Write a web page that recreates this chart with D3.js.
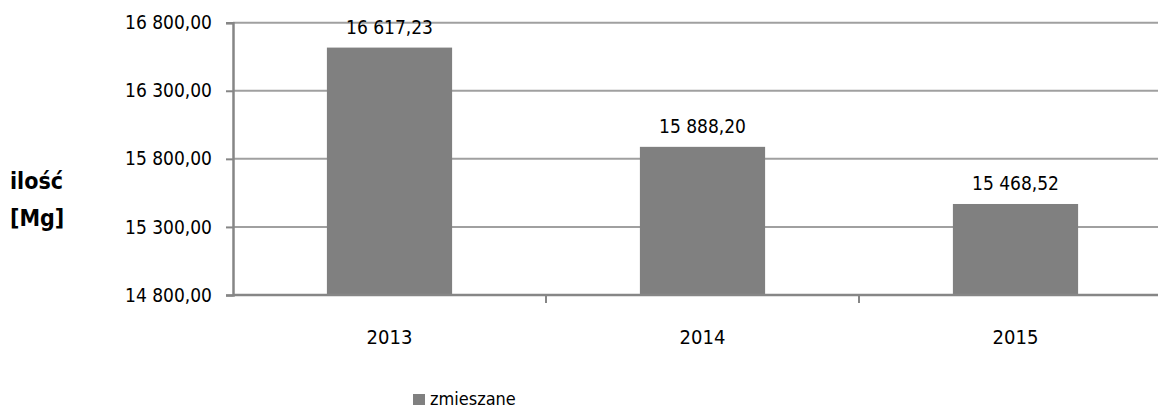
<!DOCTYPE html>
<html><head><meta charset="utf-8">
<script src="https://cdn.jsdelivr.net/npm/d3@7"></script>
<style>
body{margin:0;background:#fff;}
svg{display:block;}
text{font-family:"DejaVu Sans Condensed","DejaVu Sans",sans-serif;fill:#000;}
</style></head><body>
<svg id="c" width="1158" height="410"></svg>
<script>
const categories = ["2013","2014","2015"];
const values = [16617.23, 15888.20, 15468.52];
const yTicks = [14800, 15300, 15800, 16300, 16800];
const seriesName = "zmieszane";
const yTitle = ["ilość","[Mg]"];

const fmt = v => {
  const s = v.toFixed(2).split(".");
  return s[0].replace(/\B(?=(\d{3})+(?!\d))/g, "\u00a0") + "," + s[1];
};

const svg = d3.select("#c");
const pLeft = 233, pRight = 1172, pTop = 22.7, pBottom = 295;
const x = d3.scaleBand().domain(categories).range([pLeft, pRight]).padding(0);
const y = d3.scaleLinear().domain([14800, 16800]).range([pBottom, pTop]);

// gridlines
svg.append("g").selectAll("line").data(yTicks.slice(1)).join("line")
  .attr("x1", pLeft).attr("x2", pRight)
  .attr("y1", d => y(d)).attr("y2", d => y(d))
  .attr("stroke", "#a0a0a0").attr("stroke-width", 2);

// bars
const bw = x.bandwidth() * 0.4;
svg.append("g").selectAll("rect").data(categories).join("rect")
  .attr("x", d => x(d) + (x.bandwidth() - bw) / 2)
  .attr("width", bw)
  .attr("y", (d, i) => y(values[i]))
  .attr("height", (d, i) => y(14800) - y(values[i]))
  .attr("fill", "#808080");

// y axis
const yAxis = d3.axisLeft(y).tickValues(yTicks).tickSize(7).tickPadding(14)
  .tickFormat(fmt);
const gy = svg.append("g").attr("transform", `translate(${pLeft},0)`).call(yAxis);
gy.select(".domain").attr("stroke", "#868686").attr("stroke-width", 2.5);
gy.selectAll(".tick line").attr("stroke", "#868686").attr("stroke-width", 2);
gy.selectAll(".tick text").style("font-size", "19px").attr("fill", "#000")
  .style("font-family", '"DejaVu Sans Condensed","DejaVu Sans",sans-serif');

// x axis
const gx = svg.append("g").attr("transform", `translate(0,${pBottom})`);
gx.append("line").attr("x1", pLeft).attr("x2", pRight).attr("y1", 0).attr("y2", 0)
  .attr("stroke", "#868686").attr("stroke-width", 2.5);
gx.selectAll(".xt").data(categories).join("line").attr("class","xt")
  .attr("x1", d => x(d) + x.bandwidth()).attr("x2", d => x(d) + x.bandwidth())
  .attr("y1", 0).attr("y2", 8).attr("stroke", "#868686").attr("stroke-width", 2);
gx.selectAll("text").data(categories).join("text")
  .attr("x", d => x(d) + x.bandwidth() / 2).attr("y", 49)
  .attr("text-anchor", "middle").style("font-size", "20px").text(d => d);

// data labels
svg.append("g").selectAll("text").data(categories).join("text")
  .attr("x", d => x(d) + x.bandwidth() / 2)
  .attr("y", (d, i) => y(values[i]) - 14)
  .attr("text-anchor", "middle").style("font-size", "19px")
  .text((d, i) => fmt(values[i]));

// y title
svg.append("g").selectAll("text").data(yTitle).join("text")
  .attr("x", 10).attr("y", (d, i) => 189 + i * 37)
  .style("font-size", "23px").style("font-weight", "bold").text(d => d);

// legend
const lg = svg.append("g").attr("transform", "translate(413,394)");
lg.append("rect").attr("width", 12).attr("height", 11).attr("fill", "#808080");
lg.append("text").attr("x", 17).attr("y", 11).style("font-size", "18px").text(seriesName);
</script>
</body></html>
